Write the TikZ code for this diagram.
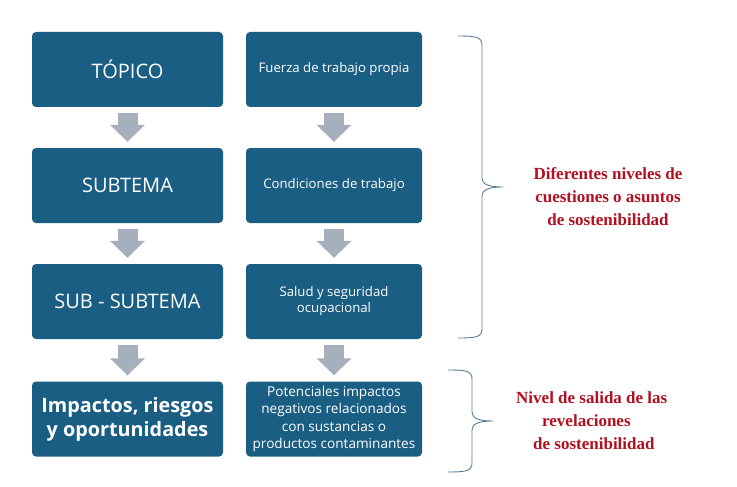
\documentclass[tikz,border=0pt]{standalone}
\usepackage{fontspec}
\setmainfont{Liberation Serif}
\newfontfamily\boxfont{Open Sans}
\usetikzlibrary{arrows.meta}
\definecolor{boxblue}{RGB}{27,94,131}
\definecolor{arrowgray}{RGB}{166,176,189}
\definecolor{labelred}{RGB}{176,16,32}
\definecolor{bracecol}{RGB}{90,125,150}
\tikzset{
  box/.style={rectangle, rounded corners=4pt, fill=boxblue, text=white, font=\boxfont, align=center, inner sep=0pt},
  leftbox/.style={box, minimum width=191pt, minimum height=75pt},
  rightbox/.style={box, minimum width=176pt, minimum height=75pt},
  flowarrow/.style={draw=arrowgray, line width=20pt, -{Triangle[width=34pt,length=17pt]}, shorten <=6pt, shorten >=6pt},
  bracepath/.style={draw=bracecol, line width=0.9pt},
  redlabel/.style={text=labelred, font=\bfseries\fontsize{17}{23}\selectfont, inner sep=0pt}
}
\begin{document}
\begin{tikzpicture}[x=1pt,y=-1pt]
\useasboundingbox (0,0) rectangle (737,487);
\fill[white] (0,0) rectangle (737,487);
% left column
\node[leftbox, font=\boxfont\fontsize{20}{24}\selectfont] (l1) at (127.5,69.5) {TÓPICO};
\node[leftbox, font=\boxfont\fontsize{20}{24}\selectfont] (l2) at (127.5,185.5) {SUBTEMA};
\node[leftbox, font=\boxfont\fontsize{20}{24}\selectfont] (l3) at (127.5,301.5) {SUB - SUBTEMA};
\node[leftbox, font=\boxfont\bfseries\fontsize{19.8}{24}\selectfont] (l4) at (127.5,419) {Impactos, riesgos\\y oportunidades};
% right column
\node[rightbox, font=\boxfont\fontsize{13.2}{16}\selectfont] (r1) at (334,69.5) {Fuerza de trabajo propia};
\node[rightbox, font=\boxfont\fontsize{13.2}{16}\selectfont] (r2) at (334,185.5) {Condiciones de trabajo};
\node[rightbox, font=\boxfont\fontsize{13.2}{16}\selectfont] (r3) at (334,301.5) {Salud y seguridad\\ocupacional};
\node[rightbox, font=\boxfont\fontsize{13.6}{17.5}\selectfont] (r4) at (334,419) {Potenciales impactos\\negativos relacionados\\con sustancias o\\productos contaminantes};
% arrows
\draw[flowarrow] (l1.south) -- (l2.north);
\draw[flowarrow] (l2.south) -- (l3.north);
\draw[flowarrow] (l3.south) -- (l4.north);
\draw[flowarrow] (r1.south) -- (r2.north);
\draw[flowarrow] (r2.south) -- (r3.north);
\draw[flowarrow] (r3.south) -- (r4.north);
% braces
\draw[bracepath] (458,36) .. controls (476,36) and (482,37) .. (482,45) -- (482,178)
  .. controls (482,184) and (488,187) .. (503,187)
  .. controls (488,187) and (482,190) .. (482,196) -- (482,329)
  .. controls (482,337) and (476,338) .. (458,338);
\draw[bracepath] (448,370) .. controls (466,370) and (472,371) .. (472,379) -- (472,412)
  .. controls (472,418) and (478,421) .. (493,421)
  .. controls (478,421) and (472,424) .. (472,430) -- (472,463)
  .. controls (472,471) and (466,472) .. (448,472);
% labels
\node[redlabel, align=center] (t1) at (608,197) {Diferentes niveles de\\cuestiones o asuntos\\de sostenibilidad};
\node[redlabel, align=left, anchor=west] (t2) at (516,421) {Nivel de salida de las\\\hspace*{26pt}revelaciones\\\hspace*{17pt}de sostenibilidad};
\end{tikzpicture}
\end{document}
